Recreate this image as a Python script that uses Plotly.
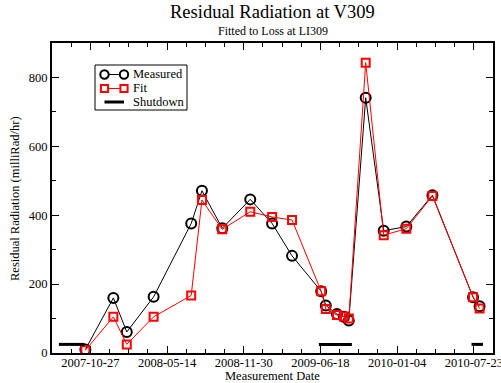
import pandas as pd
import plotly.graph_objects as go

# ---- data ----
dates = ["2007-10-14", "2007-12-26", "2008-01-30", "2008-04-09", "2008-07-16",
         "2008-08-13", "2008-10-05", "2008-12-17", "2009-02-12", "2009-04-05",
         "2009-06-20", "2009-07-02", "2009-07-31", "2009-08-18", "2009-08-31",
         "2009-10-14", "2009-11-30", "2010-01-28", "2010-04-06", "2010-07-21",
         "2010-08-07"]
measured = [10, 160, 61, 163, 376, 471, 362, 446, 376, 282, 179, 138, 113,
            105, 94, 741, 355, 367, 458, 162, 136]
fit = [8, 105, 25, 105, 167, 444, 359, 410, 395, 386, 179, 128, 110, 106,
       100, 843, 342, 361, 456, 162, 129]

shutdown_start = ["2007-08-06", "2009-06-14", "2010-07-17"]
shutdown_end = ["2007-10-12", "2009-09-08", "2010-08-16"]
shutdown_level = 25

x_ticks = ["2007-10-27", "2008-05-14", "2008-11-30", "2009-06-18",
           "2010-01-04", "2010-07-23"]
y_ticks = [0, 200, 400, 600, 800]
x_range = ["2007-07-19", "2010-09-11"]
y_range = [0, 900]

FONT = "Liberation Serif, Times New Roman, serif"
W, H = 501, 383
ML, MR, MT, MB = 52, 8, 43, 30
PW, PH = W - ML - MR, H - MT - MB


def px(x):  # pixel -> paper x
    return (x - ML) / PW


def py(y):  # pixel -> paper y
    return (H - MB - y) / PH


sx, sy = [], []
for s, e in zip(shutdown_start, shutdown_end):
    sx += [s, e, None]
    sy += [shutdown_level, shutdown_level, None]

minor_x = [d.strftime("%Y-%m-%d") for d in
           pd.date_range(x_range[0], x_range[1], freq="50D")]

fig = go.Figure()
fig.add_trace(go.Scatter(
    x=dates, y=measured, name="Measured", mode="lines+markers",
    line=dict(color="black", width=1),
    marker=dict(symbol="circle-open", size=10, color="black",
                line=dict(width=2, color="black"))))
fig.add_trace(go.Scatter(
    x=dates, y=fit, name="Fit", mode="lines+markers",
    line=dict(color="#ff0000", width=1),
    marker=dict(symbol="square-open", size=8, color="#ff0000",
                line=dict(width=2, color="#ff0000"))))
fig.add_trace(go.Scatter(
    x=sx, y=sy, name="Shutdown", mode="lines",
    line=dict(color="black", width=3), connectgaps=False))

# ---- custom legend (box, samples, labels) ----
shapes = [dict(type="rect", xref="paper", yref="paper",
               x0=px(95), x1=px(187), y0=py(110), y1=py(65),
               line=dict(color="black", width=1), fillcolor="white",
               layer="above")]
annotations = []
rows = [("Measured", 74.5, "black", "circle"),
        ("Fit", 88.5, "#ff0000", "square"),
        ("Shutdown", 102, "black", "line")]
for label, yy, col, kind in rows:
    lw = 3 if kind == "line" else 1
    shapes.append(dict(type="line", xref="paper", yref="paper",
                       x0=px(104.5), x1=px(124), y0=py(yy), y1=py(yy),
                       line=dict(color=col, width=lw), layer="above"))
    for cx in (104.5, 124):
        if kind == "circle":
            shapes.append(dict(type="circle", xref="paper", yref="paper",
                               x0=px(cx - 4.2), x1=px(cx + 4.2),
                               y0=py(yy + 4.2), y1=py(yy - 4.2),
                               line=dict(color=col, width=2),
                               fillcolor="white", layer="above"))
        elif kind == "square":
            shapes.append(dict(type="rect", xref="paper", yref="paper",
                               x0=px(cx - 3.6), x1=px(cx + 3.6),
                               y0=py(yy + 3.6), y1=py(yy - 3.6),
                               line=dict(color=col, width=2),
                               fillcolor="white", layer="above"))
    annotations.append(dict(text=label, xref="paper", yref="paper",
                            x=px(131), y=py(yy), xanchor="left",
                            yanchor="middle", showarrow=False,
                            font=dict(family=FONT, size=12.5, color="black")))

annotations += [
    dict(text="Residual Radiation at V309", xref="paper", yref="paper",
         x=0.5, y=py(12), xanchor="center", yanchor="middle",
         showarrow=False, font=dict(family=FONT, size=18.5, color="black")),
    dict(text="Fitted to Loss at LI309", xref="paper", yref="paper",
         x=0.5, y=py(31), xanchor="center", yanchor="middle",
         showarrow=False, font=dict(family=FONT, size=12, color="black")),
    dict(text="Measurement Date", xref="paper", yref="paper",
         x=0.5, y=py(375.5), xanchor="center", yanchor="middle",
         showarrow=False, font=dict(family=FONT, size=12.5, color="black")),
    dict(text="Residual Radiation (milliRad/hr)", xref="paper", yref="paper",
         x=px(15), y=py(199), xanchor="center", yanchor="middle",
         textangle=-90, showarrow=False,
         font=dict(family=FONT, size=12.5, color="black")),
]

fig.update_layout(
    template="none",
    width=W, height=H,
    margin=dict(l=ML, r=MR, t=MT, b=MB),
    paper_bgcolor="white", plot_bgcolor="white",
    font=dict(family=FONT, size=12.5, color="black"),
    showlegend=False,
    shapes=shapes, annotations=annotations,
)

fig.update_xaxes(
    type="date", range=x_range, automargin=False,
    tickmode="array", tickvals=x_ticks, ticktext=x_ticks,
    ticklabeloverflow="allow", ticklabelstandoff=-3,
    ticks="inside", ticklen=7, tickwidth=1, tickcolor="black",
    showline=True, linecolor="black", linewidth=2, mirror="ticks",
    showgrid=False, zeroline=False,
    tickfont=dict(family=FONT, size=12.5, color="black"),
    minor=dict(tickmode="array", tickvals=minor_x, ticks="inside",
               ticklen=4, tickcolor="black", tickwidth=1, showgrid=False),
)
fig.update_yaxes(
    range=y_range, automargin=False,
    tickmode="array", tickvals=y_ticks,
    ticks="inside", ticklen=7, tickwidth=1, tickcolor="black",
    showline=True, linecolor="black", linewidth=2, mirror="ticks",
    showgrid=False, zeroline=False,
    tickfont=dict(family=FONT, size=12.5, color="black"),
    minor=dict(dtick=100, ticks="inside", ticklen=4, tickcolor="black",
               tickwidth=1, showgrid=False),
)

fig.write_html("out.html")
